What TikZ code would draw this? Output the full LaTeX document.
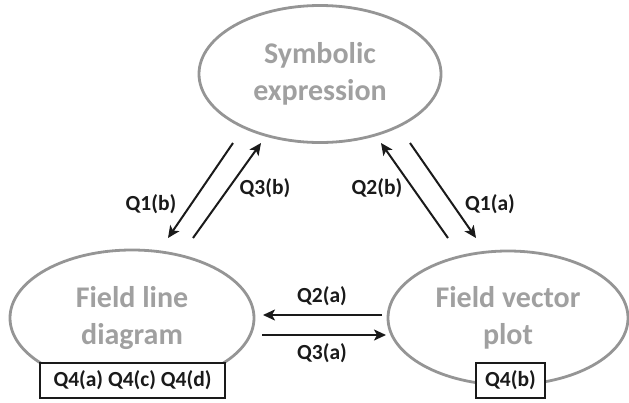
\documentclass[tikz,border=0pt]{standalone}
\usepackage{fontspec}
\setmainfont{Carlito}
\usetikzlibrary{shapes.geometric,arrows.meta}
\definecolor{ellgray}{HTML}{959595}
\definecolor{txtgray}{HTML}{A0A0A0}
\definecolor{ink}{HTML}{1A1A1A}
\begin{document}
\begin{tikzpicture}[x=1pt,y=-1pt,
  rep/.style={ellipse,draw=ellgray,line width=2.8pt,minimum width=#1,align=center,
     text=txtgray,font=\fontsize{30}{37}\selectfont\bfseries,inner sep=0pt},
  qbox/.style={draw=ink,fill=white,line width=1.3pt,text=ink,font=\fontsize{21.5}{24}\selectfont\bfseries,inner sep=3pt,minimum height=35},
  conn/.style={draw=ink,line width=2pt,-{Stealth[length=12pt,width=11pt,inset=3pt]}},
  lab/.style={text=ink,font=\fontsize{21.5}{24}\selectfont\bfseries}]
\useasboundingbox (0,0) rectangle (629,402);
\node[rep=242,minimum height=137] (sym) at (320,74) {Symbolic\\expression};
\node[rep=244,minimum height=136] (flin) at (132,318) {Field line\\diagram};
\node[rep=240,minimum height=134] (fvec) at (508,318) {Field vector\\plot};
\node[qbox,minimum width=185] (b1) at (132.5,380.5) {Q4(a) Q4(c) Q4(d)};
\node[qbox,minimum width=69] (b2) at (510.5,380.5) {Q4(b)};
\coordinate (p1) at (233,143); \coordinate (p2) at (168,238);
\coordinate (p3) at (193,238); \coordinate (p4) at (261,143);
\coordinate (p5) at (448,238); \coordinate (p6) at (381,143);
\coordinate (p7) at (410,143); \coordinate (p8) at (476,238);
\coordinate (h1) at (382,315); \coordinate (h2) at (263,315);
\coordinate (h3) at (262,335); \coordinate (h4) at (386,335);
\draw[conn] (p1) -- (p2);
\draw[conn] (p3) -- (p4);
\draw[conn] (p5) -- (p6);
\draw[conn] (p7) -- (p8);
\draw[conn] (h1) -- (h2);
\draw[conn] (h3) -- (h4);
\node[lab] (l1) at (151,204) {Q1(b)};
\node[lab] (l2) at (265,188) {Q3(b)};
\node[lab] (l3) at (377,188) {Q2(b)};
\node[lab] (l4) at (490,204) {Q1(a)};
\node[lab] (l5) at (322,296) {Q2(a)};
\node[lab] (l6) at (322,353) {Q3(a)};
\end{tikzpicture}
\end{document}
